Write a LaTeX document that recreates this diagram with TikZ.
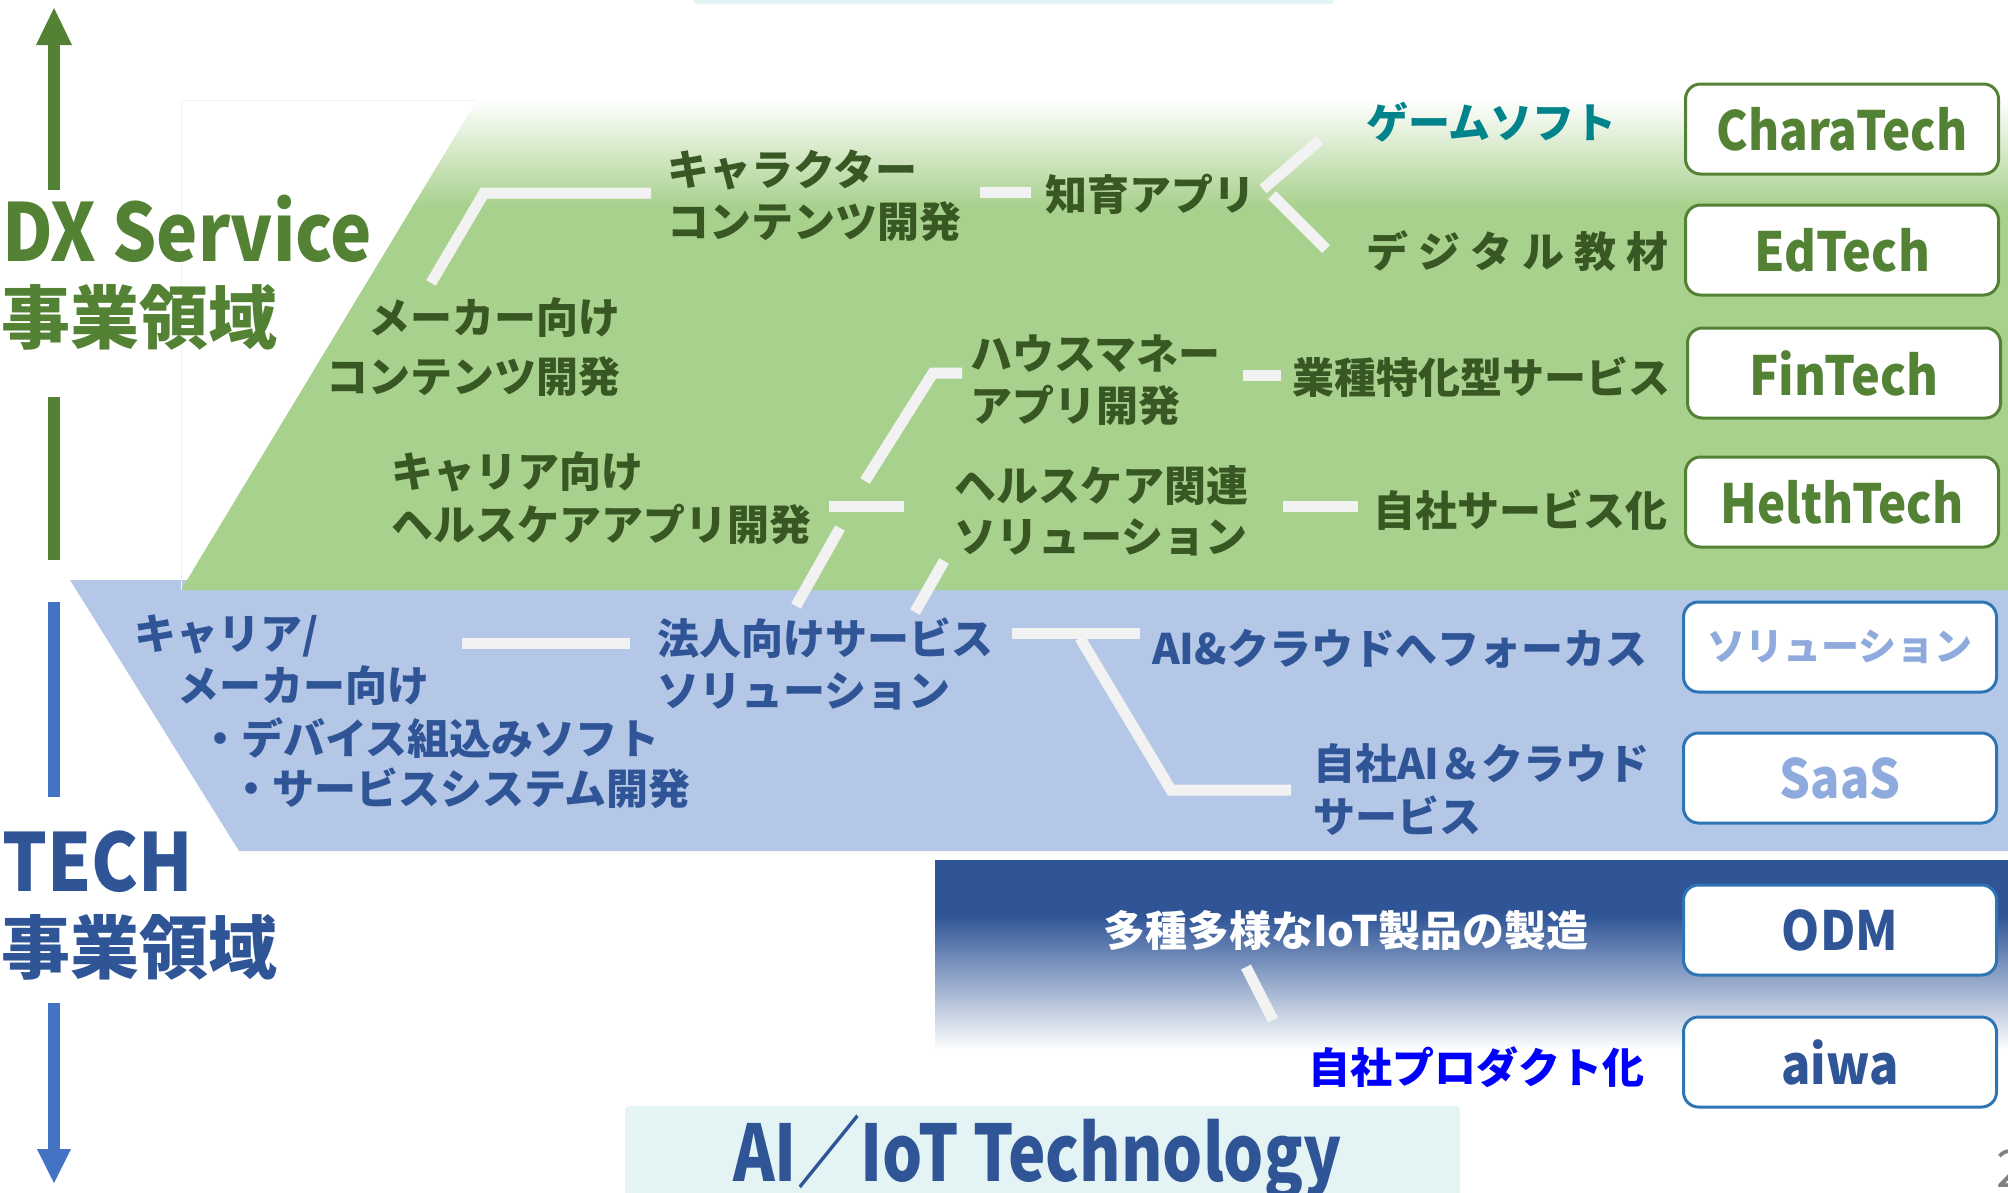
\documentclass[tikz,border=0pt]{standalone}
\usepackage{fontspec}
\usepackage{graphicx}
\setmainfont{Noto Sans CJK JP}
\newcommand\myfs[1]{\fontsize{#1}{#1}\selectfont}
\newcommand\narrow[2]{\scalebox{#1}[1]{#2}}
\definecolor{dxgreen}{HTML}{548235}
\definecolor{areagreen}{HTML}{A9D18E}
\definecolor{txtgreen}{HTML}{385723}
\definecolor{txtblue}{HTML}{2F5597}
\definecolor{areablue}{HTML}{B4C7E7}
\definecolor{arrowblue}{HTML}{4472C4}
\definecolor{navy}{HTML}{2F5597}
\definecolor{connwhite}{HTML}{F2F2F2}
\definecolor{boxblue}{HTML}{2E75B6}
\definecolor{lightblue}{HTML}{8FAADC}
\definecolor{teal}{HTML}{00838A}
\definecolor{cyanbox}{HTML}{E4F4F4}
\definecolor{pureblue}{HTML}{0000FF}
\tikzset{
  gtxt/.style={text=txtgreen, font=\bfseries\myfs{42}, inner sep=0pt},
  btxt/.style={text=txtblue, font=\bfseries\myfs{42}, inner sep=0pt},
  conn/.style={draw=connwhite, line width=11pt, line join=miter},
  tagbox/.style={fill=white, line width=3pt, rounded corners=15pt, minimum width=313pt, minimum height=90pt, inner sep=0pt, font=\bfseries\myfs{54}},
  gbox/.style={tagbox, draw=dxgreen, text=dxgreen},
  bbox/.style={tagbox, draw=boxblue},
}
\begin{document}
\begin{tikzpicture}[x=1pt,y=-1pt]
\useasboundingbox (0,0) rectangle (2008,1192);
% top strip
\fill[cyanbox, rounded corners=4pt] (693,-20) rectangle (1334,4);
% blue area
\fill[areablue] (70,580) -- (2008,580) -- (2008,851) -- (239,851) -- cycle;
% green area with fading top
\begin{scope}
  \clip (181,590) -- (477,100) -- (2008,100) -- (2008,590) -- cycle;
  \fill[areagreen] (0,205) rectangle (2008,591);
  \shade[top color=white, bottom color=areagreen] (0,99) rectangle (2008,206);
\end{scope}
\draw[black!5, line width=1pt] (181,590) -- (181,100) -- (477,100);
% navy area
\fill[navy] (935,860) rectangle (2008,916);
\shade[top color=navy, bottom color=white] (935,915) rectangle (2008,1050);
% bottom technology box
\fill[cyanbox, rounded corners=4pt] (625,1106) rectangle (1460,1210);
% left arrows
\fill[dxgreen] (48,190) rectangle (60,44);
\fill[dxgreen] (36,45) -- (54,8) -- (72,45) -- cycle;
\fill[dxgreen] (48,397) rectangle (60,560);
\fill[arrowblue] (48,602) rectangle (60,797);
\fill[arrowblue] (48,1003) rectangle (60,1150);
\fill[arrowblue] (37,1149) -- (54,1183) -- (71,1149) -- cycle;
% titles
\node[anchor=base west, inner sep=0pt, text=dxgreen, font=\bfseries\myfs{80}] (dxt) at (2,261) {\narrow{0.87}{DX Service}};
\node[anchor=west, inner sep=0pt, text=dxgreen, font=\bfseries\myfs{69}] (dxj) at (1,317) {事業領域};
\node[anchor=base west, inner sep=0pt, text=txtblue, font=\bfseries\myfs{80}] (techt) at (2,891) {\narrow{0.88}{TECH}};
\node[anchor=west, inner sep=0pt, text=txtblue, font=\bfseries\myfs{69}] (techj) at (1,947) {事業領域};
\node[anchor=base west, inner sep=0pt, text=txtblue, font=\bfseries\myfs{78}] (aiiot) at (733,1181) {\narrow{0.81}{AI／IoT Technology}};
% green texts
\node[gtxt, anchor=west] (chara1) at (667,170) {キャラクター};
\node[gtxt, anchor=west] (chara2) at (667,222) {コンテンツ開発};
\node[gtxt, anchor=west] (chiiku) at (1045,194) {知育アプリ};
\node[gtxt, anchor=west, text=teal] (game) at (1366,122) {ゲームソフト};
\node[gtxt, anchor=west] (digi) at (1366,251) {デ\hspace{10pt}ジ\hspace{10pt}タ\hspace{10pt}ル\hspace{10pt}教\hspace{10pt}材};
\node[gtxt, anchor=east] (maker1) at (621,318) {メーカー向け};
\node[gtxt, anchor=east] (maker2) at (621,377) {コンテンツ開発};
\node[gtxt, anchor=west] (career1) at (391,472) {キャリア向け};
\node[gtxt, anchor=west] (career2) at (391,524) {ヘルスケアアプリ開発};
\node[gtxt, anchor=west] (house1) at (970,354) {ハウスマネー};
\node[gtxt, anchor=west] (house2) at (970,405) {アプリ開発};
\node[gtxt, anchor=west] (gyoshu) at (1292,377) {業種特化型サービス};
\node[gtxt, anchor=west] (health1) at (954,486) {ヘルスケア関連};
\node[gtxt, anchor=west] (health2) at (954,537) {ソリューション};
\node[gtxt, anchor=west] (jisha) at (1373,510) {自社サービス化};
% blue texts
\node[btxt, anchor=west] (tc1) at (134,636) {キャリア/};
\node[btxt, anchor=west] (tc2) at (177,686) {メーカー向け};
\node[btxt, anchor=west] (tc3) at (199,738) {・デバイス組込みソフト};
\node[btxt, anchor=west] (tc4) at (230,788) {・サービスシステム開発};
\node[btxt, anchor=west] (hojin1) at (657,638) {法人向けサービス};
\node[btxt, anchor=west] (hojin2) at (657,691) {ソリューション};
\node[btxt, anchor=west] (aicloud) at (1152,649) {AI\&クラウドへフォーカス};
\node[btxt, anchor=west] (own1) at (1313,764) {自社AI＆クラウド};
\node[btxt, anchor=west] (own2) at (1313,816) {サービス};
% navy texts
\node[btxt, anchor=west, text=white] (iot) at (1103,930) {多種多様なIoT製品の製造};
\node[btxt, anchor=west, text=pureblue] (prod) at (1308,1067) {自社プロダクト化};
% page number
\node[anchor=north west, inner sep=0pt, text=black!50, font=\myfs{52}] (page) at (1996,1150) {2};
% connector points
\coordinate (a1) at (431,283); \coordinate (a2) at (484,193); \coordinate (a3) at (651,193);
\coordinate (b1) at (980,192); \coordinate (b2) at (1031,192);
\coordinate (c1) at (1263,189); \coordinate (c2) at (1320,140);
\coordinate (d1) at (1272,195); \coordinate (d2) at (1326,249);
\coordinate (e1) at (865,481); \coordinate (e2) at (933,373); \coordinate (e3) at (962,373);
\coordinate (f1) at (1243,375); \coordinate (f2) at (1281,375);
\coordinate (g1) at (829,506); \coordinate (g2) at (904,506);
\coordinate (h1) at (840,528); \coordinate (h2) at (796,606);
\coordinate (i1) at (944,561); \coordinate (i2) at (915,612);
\coordinate (j1) at (1283,506); \coordinate (j2) at (1358,506);
\coordinate (k1) at (462,643); \coordinate (k2) at (630,643);
\coordinate (l1) at (1012,633); \coordinate (l2) at (1140,633);
\coordinate (m1) at (1080,638); \coordinate (m2) at (1171,790); \coordinate (m3) at (1291,790);
\coordinate (n1) at (1246,967); \coordinate (n2) at (1273,1020);
% connectors
\draw[conn] (a1) -- (a2) -- (a3);
\draw[conn] (b1) -- (b2);
\draw[conn] (c1) -- (c2);
\draw[conn] (d1) -- (d2);
\draw[conn] (e1) -- (e2) -- (e3);
\draw[conn] (f1) -- (f2);
\draw[conn] (g1) -- (g2);
\draw[conn] (h1) -- (h2);
\draw[conn] (i1) -- (i2);
\draw[conn] (j1) -- (j2);
\draw[conn] (k1) -- (k2);
\draw[conn] (l1) -- (l2);
\draw[conn] (m1) -- (m2) -- (m3);
\draw[conn] (n1) -- (n2);
% tag boxes
\node[gbox] (chartech) at (1842,129) {\narrow{0.88}{CharaTech}};
\node[gbox] (edtech) at (1842,250) {\narrow{0.9}{EdTech}};
\node[gbox] (fintech) at (1844,373) {\narrow{0.9}{FinTech}};
\node[gbox] (helth) at (1842,502) {\narrow{0.88}{HelthTech}};
\node[bbox, text=lightblue, font=\bfseries\myfs{38}] (sol) at (1840,647) {ソリューション};
\node[bbox, text=lightblue] (saas) at (1840,778) {\narrow{0.9}{SaaS}};
\node[bbox, text=txtblue] (odm) at (1840,930) {\narrow{0.9}{ODM}};
\node[bbox, text=txtblue] (aiwa) at (1840,1062) {\narrow{0.9}{aiwa}};
\end{tikzpicture}
\end{document}
